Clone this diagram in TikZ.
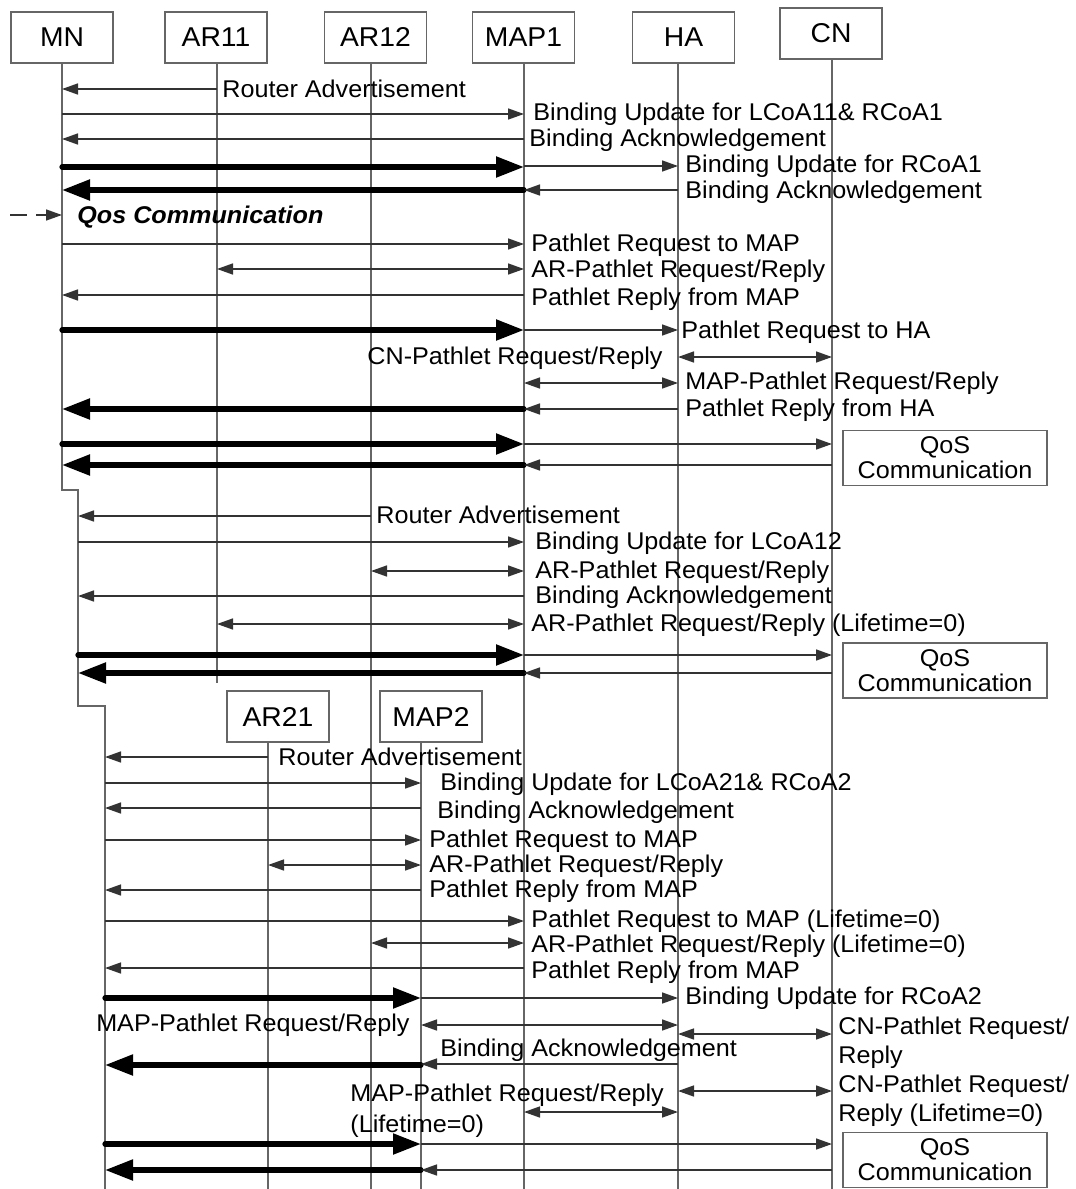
\documentclass[tikz,border=0pt]{standalone}
\usepackage{fontspec}
\setmainfont{Liberation Sans}[FakeStretch=1.04]
\usetikzlibrary{arrows.meta}
\newcommand\seqm[4][msg]{\draw[#1] (#2 |- 0,#4) -- (#3 |- 0,#4);}
\begin{document}
\begin{tikzpicture}[x=0.5pt,y=-0.5pt,
  lifeline/.style={draw=black!60,line width=0.75pt},
  hdr/.style={draw=black!60,line width=0.8pt,minimum width=51pt,minimum height=25.5pt,inner sep=0pt,font=\fontsize{13.6}{15}\selectfont},
  msg/.style={draw=black!80,line width=0.75pt,-{Triangle[length=8pt,width=5.5pt]}},
  bimsg/.style={draw=black!80,line width=0.75pt,{Triangle[length=8pt,width=5.5pt]}-{Triangle[length=8pt,width=5.5pt]}},
  bold/.style={draw=black,line width=2.6pt,line cap=round,-{Triangle[length=14pt,width=10pt]}},
  lbl/.style={inner sep=0pt,anchor=west,text height=8.8pt,text depth=0pt,font=\fontsize{12.1}{14}\selectfont},
  lblr/.style={lbl,anchor=east},
  qos/.style={draw=black!60,line width=0.75pt,minimum width=102pt,minimum height=27.5pt,align=center,inner sep=0pt,font=\fontsize{12.1}{12.5}\selectfont},
]
\useasboundingbox (0,0) rectangle (1076,1189);
% headers
\node[hdr] (hMN) at (62,37.5) {MN};
\node[hdr] (hAR11) at (216,37.5) {AR11};
\node[hdr] (hAR12) at (375.5,37.5) {AR12};
\node[hdr] (hMAP1) at (523.5,37.5) {MAP1};
\node[hdr] (hHA) at (683.5,37.5) {HA};
\node[hdr] (hCN) at (831,33.5) {CN};
\node[hdr] (hAR21) at (278,716.5) {AR21};
\node[hdr] (hMAP2) at (431,716.5) {MAP2};
% lifeline x positions
\coordinate (MN) at (62,0);
\coordinate (MNb) at (78,0);
\coordinate (MNc) at (105,0);
\coordinate (AR11) at (217,0);
\coordinate (AR12) at (371,0);
\coordinate (MAP1) at (524,0);
\coordinate (HA) at (678,0);
\coordinate (CN) at (832,0);
\coordinate (AR21) at (268,0);
\coordinate (MAP2) at (421,0);
% lifelines
\draw[lifeline] (MN |- hMN.south) -- (MN |- 0,490) -- (MNb |- 0,490) -- (MNb |- 0,706) -- (MNc |- 0,706) -- (MNc |- 0,1189);
\draw[lifeline] (AR11 |- hAR11.south) -- (AR11 |- 0,683);
\draw[lifeline] (AR12 |- hAR12.south) -- (AR12 |- 0,1189);
\draw[lifeline] (MAP1 |- hMAP1.south) -- (MAP1 |- 0,1189);
\draw[lifeline] (HA |- hHA.south) -- (HA |- 0,1189);
\draw[lifeline] (CN |- hCN.south) -- (CN |- 0,1189);
\draw[lifeline] (AR21 |- hAR21.south) -- (AR21 |- 0,1189);
\draw[lifeline] (MAP2 |- hMAP2.south) -- (MAP2 |- 0,1189);

% ---------- phase 1
\seqm{AR11}{MN}{89} \node[lbl] (l1) at (222,89) {Router Advertisement};
\seqm{MN}{MAP1}{114} \node[lbl] (l2) at (533,112) {Binding Update for LCoA11\& RCoA1};
\seqm{MAP1}{MN}{139} \node[lbl] (l3) at (529,138) {Binding Acknowledgement};
\seqm[bold]{MN}{MAP1}{167} \seqm{MAP1}{HA}{166} \node[lbl] (l4) at (685,164) {Binding Update for RCoA1};
\seqm[bold]{MAP1}{MN}{190} \seqm{HA}{MAP1}{190} \node[lbl] (l5) at (685,190) {Binding Acknowledgement};
\coordinate (qstart) at (10,215);
\draw[msg,dash pattern=on 8.5pt off 4.5pt] (qstart) -- (MN |- 0,215);
\node[lbl,font=\fontsize{12.1}{14}\selectfont\bfseries\itshape] (l6) at (77,215) {Qos Communication};
\seqm{MN}{MAP1}{244} \node[lbl] (l7) at (531,243) {Pathlet Request to MAP};
\seqm[bimsg]{AR11}{MAP1}{269} \node[lbl] (l8) at (531,269) {AR-Pathlet Request/Reply};
\seqm{MAP1}{MN}{295} \node[lbl] (l9) at (531,297) {Pathlet Reply from MAP};
\seqm[bold]{MN}{MAP1}{330} \seqm{MAP1}{HA}{330} \node[lbl] (l10) at (681,330) {Pathlet Request to HA};
\seqm[bimsg]{HA}{CN}{357} \node[lblr] (l11) at (663,356) {CN-Pathlet Request/Reply};
\seqm[bimsg]{MAP1}{HA}{383} \node[lbl] (l12) at (685,381) {MAP-Pathlet Request/Reply};
\seqm[bold]{MAP1}{MN}{409} \seqm{HA}{MAP1}{409} \node[lbl] (l13) at (685,408) {Pathlet Reply from HA};
\seqm[bold]{MN}{MAP1}{444} \seqm{MAP1}{CN}{444}
\seqm[bold]{MAP1}{MN}{465} \seqm{CN}{MAP1}{465}
\node[qos] (q1) at (945,458) {QoS\\Communication};

% ---------- phase 2
\seqm{AR12}{MNb}{516} \node[lbl] (m1) at (376,515) {Router Advertisement};
\seqm{MNb}{MAP1}{542} \node[lbl] (m2) at (535,541) {Binding Update for LCoA12};
\seqm[bimsg]{AR12}{MAP1}{571} \node[lbl] (m3) at (535,570) {AR-Pathlet Request/Reply};
\seqm{MAP1}{MNb}{596} \node[lbl] (m4) at (535,595) {Binding Acknowledgement};
\seqm[bimsg]{AR11}{MAP1}{624} \node[lbl] (m5) at (531,623) {AR-Pathlet Request/Reply (Lifetime=0)};
\seqm[bold]{MNb}{MAP1}{655} \seqm{MAP1}{CN}{655}
\seqm[bold]{MAP1}{MNb}{673} \seqm{CN}{MAP1}{673}
\node[qos] (q2) at (945,670.5) {QoS\\Communication};

% ---------- phase 3
\seqm{AR21}{MNc}{757} \node[lbl] (n1) at (278,757) {Router Advertisement};
\seqm{MNc}{MAP2}{783} \node[lbl] (n2) at (440,782) {Binding Update for LCoA21\& RCoA2};
\seqm{MAP2}{MNc}{808} \node[lbl] (n3) at (437,810) {Binding Acknowledgement};
\seqm{MNc}{MAP2}{840} \node[lbl] (n4) at (429,839) {Pathlet Request to MAP};
\seqm[bimsg]{AR21}{MAP2}{865} \node[lbl] (n5) at (429,864) {AR-Pathlet Request/Reply};
\seqm{MAP2}{MNc}{890} \node[lbl] (n6) at (429,889) {Pathlet Reply from MAP};
\seqm{MNc}{MAP1}{921} \node[lbl] (n7) at (531,919) {Pathlet Request to MAP (Lifetime=0)};
\seqm[bimsg]{AR12}{MAP1}{943} \node[lbl] (n8) at (531,944) {AR-Pathlet Request/Reply (Lifetime=0)};
\seqm{MAP1}{MNc}{968} \node[lbl] (n9) at (531,970) {Pathlet Reply from MAP};
\seqm[bold]{MNc}{MAP2}{998} \seqm{MAP2}{HA}{998} \node[lbl] (n10) at (685,996) {Binding Update for RCoA2};
\seqm[bimsg]{MAP2}{HA}{1025} \node[lblr] (n11) at (410,1023) {MAP-Pathlet Request/Reply};
\seqm[bimsg]{HA}{CN}{1034}
\node[lbl] (n12a) at (838,1026) {CN-Pathlet Request/};
\node[lbl] (n12b) at (838,1055) {Reply};
\seqm[bold]{MAP2}{MNc}{1065} \seqm{HA}{MAP2}{1064} \node[lbl] (n13) at (440,1048) {Binding Acknowledgement};
\seqm[bimsg]{HA}{CN}{1091}
\node[lbl] (n14a) at (838,1084) {CN-Pathlet Request/};
\node[lbl] (n14b) at (838,1113) {Reply (Lifetime=0)};
\seqm[bimsg]{MAP1}{HA}{1112}
\node[lbl] (n15a) at (350,1093) {MAP-Pathlet Request/Reply};
\node[lbl] (n15b) at (350,1124) {(Lifetime=0)};
\seqm[bold]{MNc}{MAP2}{1144} \seqm{MAP2}{CN}{1144}
\seqm[bold]{MAP2}{MNc}{1170} \seqm{CN}{MAP2}{1170}
\node[qos] (q3) at (945,1160) {QoS\\Communication};
\end{tikzpicture}
\end{document}
